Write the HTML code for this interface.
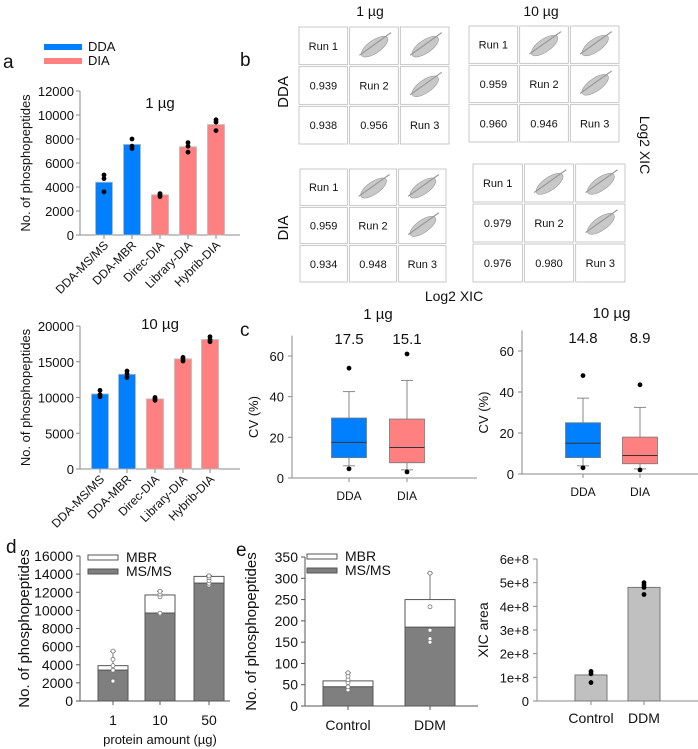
<!DOCTYPE html>
<html><head><meta charset="utf-8"><style>
body{margin:0;background:#fff}
svg{display:block;font-family:"Liberation Sans",Arial,sans-serif}
</style></head><body>
<svg id="fig" width="698" height="749" viewBox="0 0 698 749" xmlns="http://www.w3.org/2000/svg"></svg>
<script>
// ---- data ----
const catsA = ["DDA-MS/MS","DDA-MBR","Direc-DIA","Library-DIA","Hybrib-DIA"];
const typeA = ["DDA","DDA","DIA","DIA","DIA"];
const vals1ug = [4400,7550,3350,7350,9200];
const dots1ug = [[3600,4700,5000],[7200,7400,8000],[3200,3350,3450],[6900,7400,7700],[8700,9400,9600]];
const vals10ug = [10500,13250,9800,15400,18100];
const dots10ug = [[10100,10400,11000],[12800,13300,13700],[9600,9800,10000],[15100,15400,15600],[17800,18100,18500]];
const ticksA1 = [0,2000,4000,6000,8000,10000,12000];
const ticksA2 = [0,5000,10000,15000,20000];
const runsCorr = {ddaL:["0.939","0.938","0.956"],ddaR:["0.959","0.960","0.946"],diaL:["0.959","0.934","0.948"],diaR:["0.979","0.976","0.980"]};
const boxGroups = ["DDA","DIA"];
const box1ug = [{lo:6,q1:10,med:17.5,q3:29.5,hi:42.5,out:[4.5,54]},{lo:4,q1:7.5,med:15,q3:29,hi:48,out:[3,61]}];
const med1ug = ["17.5","15.1"];
const box10ug = [{lo:4,q1:8,med:15,q3:25,hi:37,out:[3,48]},{lo:2.5,q1:5,med:9,q3:18,hi:32.5,out:[2,43.5]}];
const med10ug = ["14.8","8.9"];
const ticksCV = [0,20,40,60];
const catsD = ["1","10","50"];
const msmsD = [3400,9700,13000];
const totalD = [3900,11700,13750];
const errD = [5500,12100,13850];
const ptsD = [[2200,3400,3900,4600,5500],[9600,9700,11500,11800,12100],[12800,13000,13300,13600,13800]];
const ticksD = [0,2000,4000,6000,8000,10000,12000,14000,16000];
const catsE = ["Control","DDM"];
const msmsE = [45,185];
const totalE = [59,250];
const errE = [78,312];
const ptsE = [[38,45,55,62,70,78],[150,158,178,233,312]];
const ticksE = [0,50,100,150,200,250,300,350];
const xicVals = [1.1e8,4.8e8];
const xicDots = [[0.78e8,1.15e8,1.25e8],[4.5e8,4.8e8,4.9e8,5.0e8]];
const ticksX = [0,1e8,2e8,3e8,4e8,5e8,6e8];
const ticksXLab = ["0","1e+8","2e+8","3e+8","4e+8","5e+8","6e+8"];

const NS="http://www.w3.org/2000/svg";
const svg=document.getElementById('fig');
function el(tag,attrs,parent,txt){const e=document.createElementNS(NS,tag);for(const k in attrs)e.setAttribute(k,attrs[k]);if(txt!==undefined)e.textContent=txt;(parent||svg).appendChild(e);return e;}
function grp(name){const g=el('g',{});return g;}
function txt(g,name,x,y,s,size,anchor,extra){const t=el('text',Object.assign({x:x,y:y,'font-size':size||13,'text-anchor':anchor||'middle',fill:'#111'},extra||{}),g,s);return t;}
function lin(min,max,p0,p1){return v=>p0+(v-min)/(max-min)*(p1-p0);}
const BLUE="#0080ff",PINK="#ff8080";

// panel labels
[["a",3,68],["b",240,66],["c",240,336],["d",6,553],["e",236,556]].forEach(p=>{const t=txt(svg,'panel-label-'+p[0],p[1],p[2],p[0],19,'start');});

// legend a
(function(){const g=grp('legend-a');
const r1=el('rect',{x:44,y:44,width:38,height:6,fill:BLUE},g);
txt(g,'legend-label-dda',88,51,'DDA',13,'start');
const r2=el('rect',{x:44,y:58,width:38,height:6,fill:PINK},g);
txt(g,'legend-label-dia',88,65,'DIA',13,'start');})();

// bar chart a
function barA(name,vals,dots,ticks,ymax,y0,y1,centers,title,titleY,labY){
 const g=grp(name);const y=lin(0,ymax,y0,y1);
 el('line',{x1:80,y1:y1,x2:80,y2:y0,stroke:'#888'},g);
 el('line',{x1:80,y1:y0,x2:240,y2:y0,stroke:'#888'},g);
 ticks.forEach(t=>{el('line',{x1:76,x2:80,y1:y(t),y2:y(t),stroke:'#888'},g);txt(g,'y-tick-label',74,y(t)+5,String(t),13,'end');});
 vals.forEach((v,i)=>{const cx=centers[i];
  const r=el('rect',{x:cx-8.5,y:y(v),width:17,height:y0-y(v),fill:typeA[i]=='DDA'?BLUE:PINK,stroke:'#bbb','stroke-width':0.8},g);
  
  el('line',{x1:cx,x2:cx,y1:y0,y2:y0+4,stroke:'#888'},g);
  dots[i].forEach(d=>{const c=el('circle',{cx:cx,cy:y(d),r:2.4,fill:'#000'},g);});
  txt(g,'x-tick-label',cx+5,labY,catsA[i],12,'end',{transform:`rotate(-45 ${cx+5} ${labY})`});
 });
 txt(g,'chart-title',(80+240)/2,titleY,title,15);
 txt(g,'y-axis-title',0,0,'No. of phosphopeptides',13,'middle',{transform:`translate(30 ${(y0+y1)/2}) rotate(-90)`});
}
barA('chart-a-1ug',vals1ug,dots1ug,ticksA1,12000,235,91,[104,132,160,188,216],'1 µg',108,246);
barA('chart-a-10ug',vals10ug,dots10ug,ticksA2,20000,469,326,[100,127,155,183,210],'10 µg',329,480);

// panel b correlation grids
function gridB(name,x0,y0,x1,y1,vals){
 const g=grp(name);const cw=(x1-x0)/3,ch=(y1-y0)/3;
 for(let r=0;r<3;r++)for(let c=0;c<3;c++){
  const x=x0+c*cw+1,yy=y0+r*ch+1,w=cw-2,h=ch-2;
  const rc=el('rect',{x:x,y:yy,width:w,height:h,fill:'#fff',stroke:'#bbb','stroke-width':0.8},g);
  
  if(r==c)txt(g,'run-label',x+w/2,yy+h/2+4,'Run '+(r+1),11);
  else if(r>c){const idx=(r==1&&c==0)?0:(r==2&&c==0?1:2);txt(g,'correlation-value',x+w/2,yy+h/2+4,vals[idx],11);}
  else{
   const cx=x+w/2,cy=yy+h/2;
   const e=el('ellipse',{cx:cx,cy:cy+1,rx:w*0.32,ry:h*0.17,fill:'#c8c8c8',stroke:'#999','stroke-width':0.6,transform:`rotate(-35 ${cx} ${cy})`},g);
   
   el('line',{x1:cx-w*0.3,y1:cy+h*0.25,x2:cx+w*0.35,y2:cy-h*0.35,stroke:'#999','stroke-width':1.2},g);
  }
 }
}
gridB('corr-dda-1ug',298,26,450,145,runsCorr.ddaL);
gridB('corr-dda-10ug',468,25,620,143,runsCorr.ddaR);
gridB('corr-dia-1ug',299,168,447,283,runsCorr.diaL);
gridB('corr-dia-10ug',472,163,626,283,runsCorr.diaR);
(function(){const g=grp('panel-b-labels');
txt(g,'title-1ug',370,16,'1 µg',14);txt(g,'title-10ug',541,16,'10 µg',14);
txt(g,'row-label-dda',0,0,'DDA',15,'middle',{transform:'translate(288 92) rotate(-90)'});
txt(g,'row-label-dia',0,0,'DIA',15,'middle',{transform:'translate(288 228) rotate(-90)'});
txt(g,'x-axis-title',454,301,'Log2 XIC',14);
txt(g,'y-axis-title',0,0,'Log2 XIC',14,'middle',{transform:'translate(640 145) rotate(90)'});})();

// panel c box plots
function boxC(name,ax,xEnd,y0,y60,centers,boxes,meds,title,titleY){
 const g=grp(name);const y=lin(0,60,y0,y60);
 el('line',{x1:ax,y1:y0,x2:ax,y2:y(70),stroke:'#888'},g);
 el('line',{x1:ax,y1:y0,x2:xEnd,y2:y0,stroke:'#888'},g);
 ticksCV.forEach(t=>{el('line',{x1:ax-4,x2:ax,y1:y(t),y2:y(t),stroke:'#888'},g);txt(g,'y-tick-label',ax-8,y(t)+5,String(t),13,'end');});
 boxes.forEach((b,i)=>{const cx=centers[i];const col=i==0?BLUE:PINK;
  el('line',{x1:cx,x2:cx,y1:y(b.lo),y2:y(b.hi),stroke:'#888'},g);
  el('line',{x1:cx-6,x2:cx+6,y1:y(b.lo),y2:y(b.lo),stroke:'#888'},g);
  el('line',{x1:cx-6,x2:cx+6,y1:y(b.hi),y2:y(b.hi),stroke:'#888'},g);
  const r=el('rect',{x:cx-17.5,y:y(b.q3),width:35,height:y(b.q1)-y(b.q3),fill:col,stroke:'#777','stroke-width':0.8},g);
  
  el('line',{x1:cx-17.5,x2:cx+17.5,y1:y(b.med),y2:y(b.med),stroke:'#333'},g);
  b.out.forEach(o=>{const c=el('circle',{cx:cx,cy:y(o),r:2.4,fill:'#000'},g);});
  el('line',{x1:cx,x2:cx,y1:y0,y2:y0+4,stroke:'#888'},g);
  txt(g,'x-tick-label',cx,y0+22,boxGroups[i],12);
  txt(g,'median-label',cx,titleY+25,meds[i],15);
 });
 txt(g,'chart-title',(centers[0]+centers[1])/2,titleY,title,15);
 txt(g,'y-axis-title',0,0,'CV (%)',13,'middle',{transform:`translate(${ax-34} ${(y0+y(60))/2}) rotate(-90)`});
}
boxC('chart-c-1ug',292,477,478,356,[349,407],box1ug,med1ug,'1 µg',319);
boxC('chart-c-10ug',522,698,474,351,[583,640],box10ug,med10ug,'10 µg',318);

// stacked bars
function stacked(name,ax,xEnd,y0,ymaxPix,ymax,ticks,cats,centers,bw,msms,total,err,pts,legendX,legendY,titleX){
 const g=grp(name);const y=lin(0,ymax,y0,ymaxPix);
 el('line',{x1:ax,y1:y0,x2:ax,y2:ymaxPix,stroke:'#555'},g);
 el('line',{x1:ax,y1:y0,x2:xEnd,y2:y0,stroke:'#555'},g);
 ticks.forEach(t=>{el('line',{x1:ax-4,x2:ax,y1:y(t),y2:y(t),stroke:'#555'},g);txt(g,'y-tick-label',ax-7,y(t)+5,String(t),14,'end');});
 cats.forEach((c,i)=>{const cx=centers[i];
  el('line',{x1:cx,x2:cx,y1:y(total[i]),y2:y(err[i]),stroke:'#777'},g);
  el('line',{x1:cx-3,x2:cx+3,y1:y(err[i]),y2:y(err[i]),stroke:'#777'},g);
  const r1=el('rect',{x:cx-bw/2,y:y(total[i]),width:bw,height:y(msms[i])-y(total[i]),fill:'#fff',stroke:'#555'},g);
  
  const r2=el('rect',{x:cx-bw/2,y:y(msms[i]),width:bw,height:y0-y(msms[i]),fill:'#7f7f7f',stroke:'#555'},g);
  
  pts[i].forEach(p=>{const k=el('circle',{cx:cx,cy:y(p),r:2,fill:'#fff',stroke:'#777','stroke-width':0.8},g);});
  el('line',{x1:cx,x2:cx,y1:y0,y2:y0+4,stroke:'#555'},g);
  txt(g,'x-tick-label',cx,y0+24,c,14);
 });
 const l1=el('rect',{x:legendX,y:legendY,width:30,height:5,fill:'#fff',stroke:'#555'},g);
 txt(g,'legend-label-mbr',legendX+38,legendY+7,'MBR',14,'start');
 const l2=el('rect',{x:legendX,y:legendY+14,width:30,height:5,fill:'#7f7f7f',stroke:'#555'},g);
 txt(g,'legend-label-msms',legendX+38,legendY+21,'MS/MS',14,'start');
 txt(g,'y-axis-title',0,0,'No. of phosphopeptides',15,'middle',{transform:`translate(${titleX} ${(y0+ymaxPix)/2}) rotate(-90)`});
}
stacked('chart-d',80,230,701,556,16000,ticksD,catsD,[113,160,209],30,msmsD,totalD,errD,ptsD,88,555,29);
stacked('chart-e',305,478,706,557,350,ticksE,catsE,[348,430],50,msmsE,totalE,errE,ptsE,307,554,256);
txt(svg,'x-axis-title-d',160,744,'protein amount (µg)',13);

// XIC chart
(function(){const g=grp('chart-xic');const y=lin(0,6e8,701,559);
 el('line',{x1:537,y1:701,x2:537,y2:559,stroke:'#888'},g);
 el('line',{x1:537,y1:701,x2:698,y2:701,stroke:'#888'},g);
 ticksX.forEach((t,i)=>{el('line',{x1:533,x2:537,y1:y(t),y2:y(t),stroke:'#888'},g);txt(g,'y-tick-label',529,y(t)+5,ticksXLab[i],13,'end');});
 const cx=[591,644];
 xicVals.forEach((v,i)=>{const r=el('rect',{x:cx[i]-16,y:y(v),width:32,height:701-y(v),fill:'#c0c0c0',stroke:'#777'},g);
  
  xicDots[i].forEach(d=>{const c=el('circle',{cx:cx[i],cy:y(d),r:2.4,fill:'#000'},g);});
  el('line',{x1:cx[i],x2:cx[i],y1:701,y2:705,stroke:'#888'},g);
  txt(g,'x-tick-label',cx[i],723,catsE[i],14);});
 txt(g,'y-axis-title',0,0,'XIC area',14,'middle',{transform:'translate(488 630) rotate(-90)'});
})();
</script>
</body></html>
